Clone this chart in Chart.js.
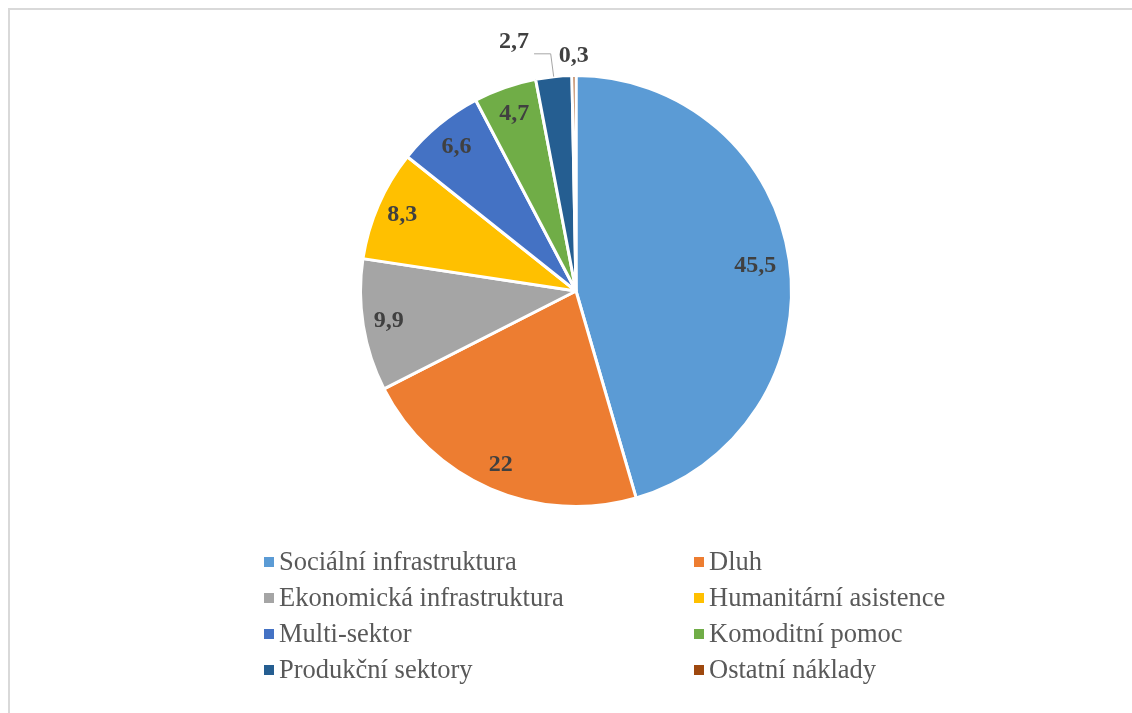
<!DOCTYPE html>
<html>
<head>
<meta charset="utf-8">
<script src="https://cdn.jsdelivr.net/npm/chart.js@4/dist/chart.umd.min.js"></script>
<style>
    html, body { margin: 0; padding: 0; background: #fff; overflow: hidden; }
    canvas { display: block; }
</style>
</head>
<body>
<canvas id="pieChart" width="1132" height="713"></canvas>
<script>
// Data
const categories = ['Sociální infrastruktura', 'Dluh', 'Ekonomická infrastruktura', 'Humanitární asistence',
    'Multi-sektor', 'Komoditní pomoc', 'Produkční sektory', 'Ostatní náklady'];
const shares = [45.5, 22, 9.9, 8.3, 6.6, 4.7, 2.7, 0.3];
const colors = ['#5b9bd5', '#ed7d31', '#a5a5a5', '#ffc000', '#4472c4', '#70ad47', '#255e91', '#9e480e'];

// Label placement per slice (inside / outside with optional leader line)
const labelPlacement = [
    { pos: 'in', r: 0.84 }, { pos: 'in', r: 0.88 }, { pos: 'in', r: 0.88 }, { pos: 'in', r: 0.88 },
    { pos: 'in', r: 0.87 }, { pos: 'in', r: 0.87 },
    { pos: 'out', dist: 35, dx: -36, leader: true },
    { pos: 'out', dist: 20 }
];

const SERIF = '"Liberation Serif", "Times New Roman", serif';
const fmt = v => String(v).replace('.', ',');

// Frame, value labels and the two-column legend
const labelsPlugin = {
    id: 'sliceLabels',
    beforeDraw(chart) {
        const ctx = chart.ctx;
        ctx.save();
        ctx.fillStyle = '#ffffff';
        ctx.fillRect(0, 0, chart.width, chart.height);
        ctx.fillStyle = '#d9d9d9';
        ctx.fillRect(8, 8, chart.width - 8, 2);
        ctx.fillRect(8, 8, 2, chart.height - 8);
        ctx.restore();
    },
    afterDatasetsDraw(chart) {
        const ctx = chart.ctx;
        const meta = chart.getDatasetMeta(0);
        ctx.save();
        ctx.font = 'bold 24px ' + SERIF;
        ctx.fillStyle = '#404040';
        ctx.textAlign = 'center';
        ctx.textBaseline = 'middle';
        meta.data.forEach((arc, i) => {
            const p = arc.getProps(['x', 'y', 'startAngle', 'endAngle', 'outerRadius'], true);
            const mid = (p.startAngle + p.endAngle) / 2;
            const place = labelPlacement[i];
            let lx, ly;
            if (place.pos === 'in') {
                lx = p.x + Math.cos(mid) * p.outerRadius * place.r;
                ly = p.y + Math.sin(mid) * p.outerRadius * place.r;
            } else {
                const d = p.outerRadius + place.dist;
                lx = p.x + Math.cos(mid) * d + (place.dx || 0);
                ly = p.y + Math.sin(mid) * d;
                if (place.leader) {
                    const ex = p.x + Math.cos(mid) * p.outerRadius;
                    const ey = p.y + Math.sin(mid) * p.outerRadius;
                    const kx = p.x + Math.cos(mid) * (d - 6);
                    const ky = p.y + Math.sin(mid) * (d - 6) + 6;
                    ctx.strokeStyle = '#a6a6a6';
                    ctx.lineWidth = 1;
                    ctx.beginPath();
                    ctx.moveTo(ex, ey);
                    ctx.lineTo(kx, ky);
                    ctx.lineTo(lx + 20, ky);
                    ctx.stroke();
                }
            }
            ctx.fillText(fmt(shares[i]), lx, ly);
        });
        ctx.restore();
    },
    afterDraw(chart) {
        const ctx = chart.ctx;
        ctx.save();
        ctx.font = '26.5px ' + SERIF;
        ctx.textBaseline = 'middle';
        ctx.textAlign = 'left';
        const colX = [264, 694];
        const rowY0 = 562, rowH = 36;
        categories.forEach((name, i) => {
            const x = colX[i % 2];
            const y = rowY0 + Math.floor(i / 2) * rowH;
            ctx.fillStyle = colors[i];
            ctx.fillRect(x, y - 5, 10, 10);
            ctx.fillStyle = '#595959';
            ctx.fillText(name, x + 15, y + 1);
        });
        ctx.restore();
    }
};

function createPieChart() {
    const ctx = document.getElementById('pieChart').getContext('2d');
    new Chart(ctx, {
        type: 'pie',
        data: {
            labels: categories,
            datasets: [{
                data: shares,
                backgroundColor: colors,
                borderColor: '#ffffff',
                borderWidth: 3
            }]
        },
        options: {
            responsive: false,
            animation: false,
            layout: {
                padding: { left: 359, right: 339, top: 74, bottom: 205 }
            },
            plugins: {
                legend: { display: false },
                tooltip: { enabled: false }
            }
        },
        plugins: [labelsPlugin]
    });
}

Promise.all([
    document.fonts.load('26px "Liberation Serif"', 'Sociální'),
    document.fonts.load('bold 24px "Liberation Serif"', '45,5')
]).then(createPieChart, createPieChart);
</script>
</body>
</html>
